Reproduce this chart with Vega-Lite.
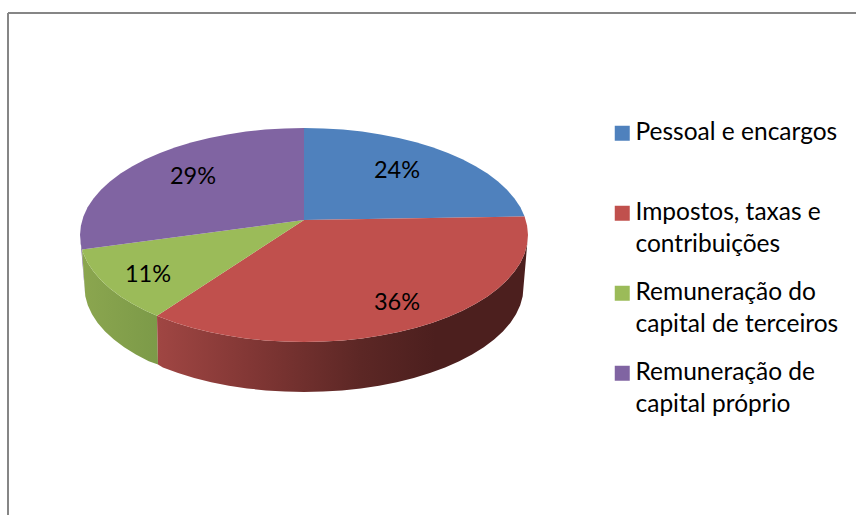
{
  "$schema": "https://vega.github.io/schema/vega-lite/v6.json",
  "width": 856,
  "height": 515,
  "padding": 0,
  "autosize": {"type": "none"},
  "background": "#ffffff",
  "view": {"stroke": null},
  "config": {"font": "Lato"},
  "datasets": {
    "walls": [
      {"name": "Remuneração de capital próprio",
       "x": [80.5, 82, 85.3, 84.5],
       "y": [240, 249.5, 296.2, 287]},
      {"name": "Remuneração do capital de terceiros",
       "x": [157, 145.6, 132.4, 120.5, 110, 101, 93.5, 87.6, 83.4, 82, 85.3, 87.8, 92, 97.7, 105.1, 113.9, 124.2, 135.9, 148.8, 158],
       "y": [315.8, 310.7, 303.8, 296.4, 288.5, 280.2, 271.6, 262.7, 253.6, 249.5, 296.2, 305.2, 314.2, 322.9, 331.4, 339.5, 347.2, 354.5, 361.2, 364.5]},
      {"name": "Impostos, taxas e contribuições",
       "x": [157, 160, 175.5, 192, 209.3, 227.4, 246, 265.1, 284.5, 304, 323.5, 342.9, 362, 380.6, 398.7, 416, 432.5, 448, 462.4, 475.6, 487.5, 498, 507, 514.5, 520.4, 524.6, 527.1, 528, 523.5, 522.7, 520.2, 516, 510.3, 502.9, 494.1, 483.8, 472.1, 459.2, 445.1, 429.9, 413.8, 396.8, 379.1, 360.8, 342.1, 323.1, 304, 284.9, 265.9, 247.2, 228.9, 211.2, 194.2, 178.1, 162.9, 158],
       "y": [315.8, 317, 322.7, 327.7, 332, 335.5, 338.4, 340.4, 341.6, 342, 341.6, 340.4, 338.4, 335.5, 332, 327.7, 322.7, 317, 310.7, 303.8, 296.4, 288.5, 280.2, 271.6, 262.7, 253.6, 244.3, 235, 287, 296.2, 305.2, 314.2, 322.9, 331.4, 339.5, 347.2, 354.5, 361.2, 367.4, 373, 377.9, 382.2, 385.7, 388.4, 390.4, 391.6, 392, 391.6, 390.4, 388.4, 385.7, 382.2, 377.9, 373, 367.4, 364.5]}
    ],
    "tops": [
      {"name": "Pessoal e encargos",
       "x": [304, 304, 323.5, 342.9, 362, 380.6, 398.7, 416, 432.5, 448, 462.4, 475.6, 487.5, 498, 507, 514.5, 520.4, 524.6],
       "y": [220, 128, 128.4, 129.6, 131.6, 134.5, 138, 142.3, 147.3, 153, 159.3, 166.2, 173.6, 181.5, 189.8, 198.4, 207.3, 216.4]},
      {"name": "Impostos, taxas e contribuições",
       "x": [304, 524.6, 527.1, 528, 527.1, 524.6, 520.4, 514.5, 507, 498, 487.5, 475.6, 462.4, 448, 432.5, 416, 398.7, 380.6, 362, 342.9, 323.5, 304, 284.5, 265.1, 246, 227.4, 209.3, 192, 175.5, 160, 157],
       "y": [220, 216.4, 225.7, 235, 244.3, 253.6, 262.7, 271.6, 280.2, 288.5, 296.4, 303.8, 310.7, 317, 322.7, 327.7, 332, 335.5, 338.4, 340.4, 341.6, 342, 341.6, 340.4, 338.4, 335.5, 332, 327.7, 322.7, 317, 315.8]},
      {"name": "Remuneração do capital de terceiros",
       "x": [304, 157, 145.6, 132.4, 120.5, 110, 101, 93.5, 87.6, 83.4, 82],
       "y": [220, 315.8, 310.7, 303.8, 296.4, 288.5, 280.2, 271.6, 262.7, 253.6, 249.5]},
      {"name": "Remuneração de capital próprio",
       "x": [304, 82, 80.9, 80, 80.9, 83.4, 87.6, 93.5, 101, 110, 120.5, 132.4, 145.6, 160, 175.5, 192, 209.3, 227.4, 246, 265.1, 284.5, 304],
       "y": [220, 249.5, 244.3, 235, 225.7, 216.4, 207.3, 198.4, 189.8, 181.5, 173.6, 166.2, 159.3, 153, 147.3, 142.3, 138, 134.5, 131.6, 129.6, 128.4, 128]}
    ],
    "shares": [
      {"name": "Pessoal e encargos", "share": 0.24, "x": 397, "y": 171},
      {"name": "Impostos, taxas e contribuições", "share": 0.36, "x": 397, "y": 303},
      {"name": "Remuneração do capital de terceiros", "share": 0.11, "x": 148, "y": 275},
      {"name": "Remuneração de capital próprio", "share": 0.29, "x": 193, "y": 177}
    ],
    "frame": [
      {"x": 8, "x2": 856, "y": 13, "y2": 13},
      {"x": 8, "x2": 8, "y": 13, "y2": 515}
    ]
  },
  "encoding": {
    "x": {"field": "x", "type": "quantitative", "axis": null, "scale": {"domain": [0, 856], "nice": false, "zero": false}},
    "y": {"field": "y", "type": "quantitative", "axis": null, "scale": {"domain": [515, 0], "nice": false, "zero": false}}
  },
  "layer": [
    {
      "data": {"name": "frame"},
      "mark": {"type": "rule", "stroke": "#868686", "strokeWidth": 2},
      "encoding": {"x2": {"field": "x2"}, "y2": {"field": "y2"}}
    },
    {
      "data": {"name": "walls"},
      "transform": [
        {"filter": "datum.name === 'Remuneração de capital próprio'"},
        {"flatten": ["x", "y"]}
      ],
      "mark": {"type": "line", "fill": "#6e5790", "strokeWidth": 0},
      "encoding": {"order": {"value": null}}
    },
    {
      "data": {"name": "walls"},
      "transform": [
        {"filter": "datum.name === 'Remuneração do capital de terceiros'"},
        {"flatten": ["x", "y"]}
      ],
      "mark": {
        "type": "line",
        "strokeWidth": 0,
        "fill": {
          "gradient": "linear", "x1": 0, "x2": 1, "y1": 0, "y2": 0,
          "stops": [
            {"offset": 0, "color": "#8ba64f"},
            {"offset": 1, "color": "#7c9a48"}
          ]
        }
      },
      "encoding": {"order": {"value": null}}
    },
    {
      "data": {"name": "walls"},
      "transform": [
        {"filter": "datum.name === 'Impostos, taxas e contribuições'"},
        {"flatten": ["x", "y"]}
      ],
      "mark": {
        "type": "line",
        "strokeWidth": 0,
        "fill": {
          "gradient": "linear", "x1": 0, "x2": 1, "y1": 0, "y2": 0,
          "stops": [
            {"offset": 0, "color": "#a04643"},
            {"offset": 0.25, "color": "#823735"},
            {"offset": 0.55, "color": "#5c2725"},
            {"offset": 0.75, "color": "#4c1f1e"},
            {"offset": 1, "color": "#4c1f1e"}
          ]
        }
      },
      "encoding": {"order": {"value": null}}
    },
    {
      "data": {"name": "tops"},
      "transform": [{"flatten": ["x", "y"]}],
      "mark": {"type": "line", "strokeWidth": 0},
      "encoding": {
        "order": {"value": null},
        "fill": {
          "field": "name",
          "type": "nominal",
          "scale": {
            "domain": ["Pessoal e encargos", "Impostos, taxas e contribuições", "Remuneração do capital de terceiros", "Remuneração de capital próprio"],
            "range": ["#4f81bd", "#c0504d", "#9bbb59", "#8064a2"]
          },
          "legend": {
            "title": null,
            "orient": "none",
            "legendX": 610,
            "legendY": 121,
            "symbolType": "square",
            "symbolSize": 225,
            "symbolStrokeWidth": 0,
            "labelFont": "Lato",
            "labelFontSize": 24.5,
            "labelColor": "#000000",
            "labelLimit": 260,
            "labelOffset": 1,
            "rowPadding": 23,
            "gridAlign": "all",
            "labelExpr": "datum.label === 'Impostos, taxas e contribuições' ? ['Impostos, taxas e', 'contribuições'] : datum.label === 'Remuneração do capital de terceiros' ? ['Remuneração do', 'capital de terceiros'] : datum.label === 'Remuneração de capital próprio' ? ['Remuneração de', 'capital próprio'] : datum.label",
            "encoding": {"labels": {"lineHeight": {"value": 32}}}
          }
        }
      }
    },
    {
      "data": {"name": "shares"},
      "mark": {"type": "text", "font": "Lato", "fontSize": 23.5, "color": "#000000", "align": "center", "baseline": "middle"},
      "encoding": {"text": {"field": "share", "type": "quantitative", "format": ".0%"}}
    }
  ]
}
